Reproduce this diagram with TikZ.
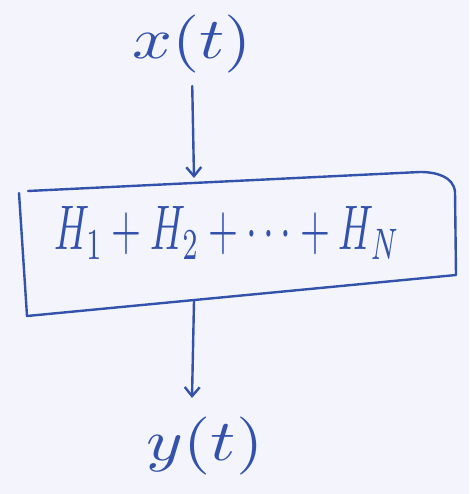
\documentclass[tikz,border=0pt]{standalone}
\usetikzlibrary{arrows.meta}

\definecolor{ink}{RGB}{50,82,172}
\definecolor{paper}{RGB}{244,245,252}

\tikzset{
  inkline/.style={draw=ink,line width=2.4pt},
  inkarrow/.style={inkline,-{Straight Barb[length=9pt,width=15pt,line width=2.4pt]}},
  signal/.style={text=ink,inner sep=0pt,xscale=7,yscale=5.8},
  sumtext/.style={text=ink,inner sep=0pt,xscale=3.85,yscale=6.3}
}

\begin{document}
\begin{tikzpicture}[x=1pt,y=-1pt,line join=round,line cap=round]

  % foglio
  \fill[paper] (0,0) rectangle (469,494);
  \useasboundingbox (0,0) rectangle (469,494);

  % ---- segnali di ingresso e di uscita ------------------------------------
  \node[signal] (xin)  at (192,44)  {$x(t)$};
  \node[signal] (yout) at (205,446) {$y(t)$};

  % ---- il blocco (rettangolo tracciato a mano) ----------------------------
  \draw[inkline] (28,191) -- (420,172) to[out=0,in=95] (455,192)
                 -- (456,275) -- (27,316) -- (19,193);
  \node[sumtext] (sum) at (227,233) {$H_1 + H_2 + \cdots + H_N$};

  \coordinate (boxtop) at (194,178);
  \coordinate (boxbot) at (194,301);
  \coordinate (ytip)   at (192,398);

  % ---- frecce --------------------------------------------------------------
  \draw[inkarrow,shorten <=12pt] (xin.south) -- (boxtop);
  \draw[inkarrow] (boxbot) -- (ytip);

\end{tikzpicture}
\end{document}
